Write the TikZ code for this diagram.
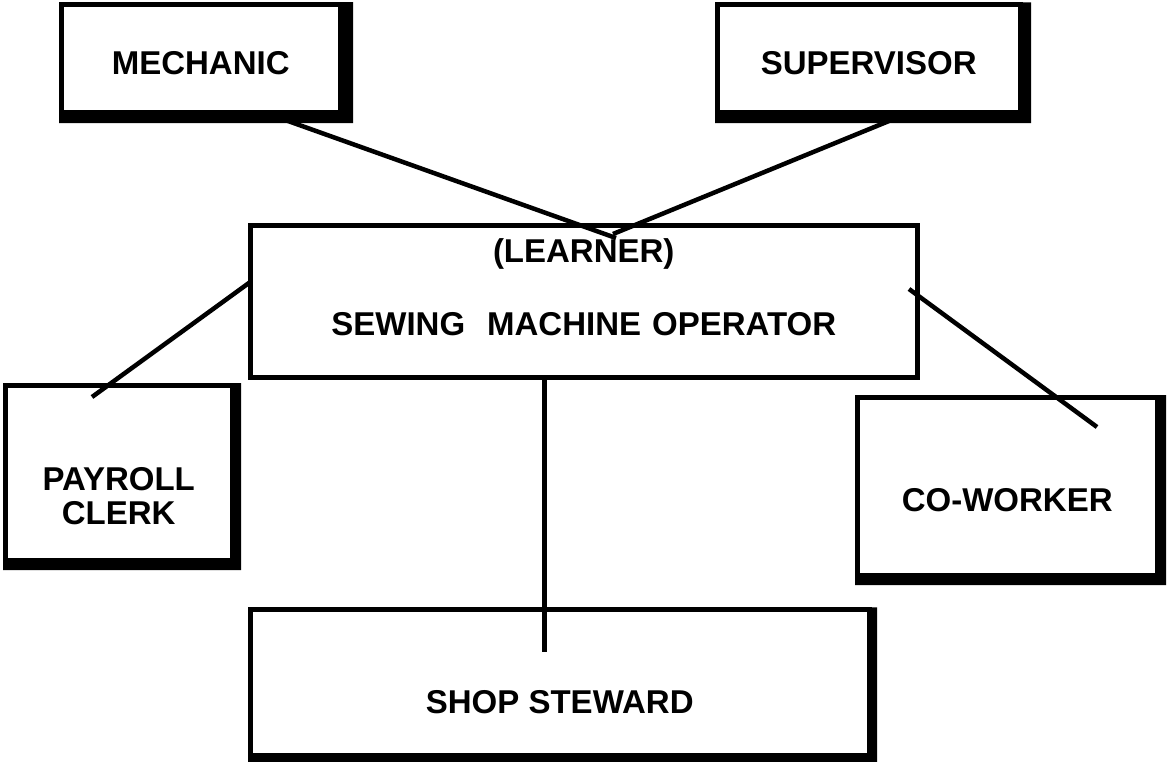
\documentclass[tikz,border=0pt]{standalone}
\usepackage{fontspec}
\setmainfont{Liberation Sans}
% thick right and bottom edges of a framed box: #1 node, #2 right extra, #3 bottom extra
\newcommand\heavyedges[3]{%
  \fill ([shift={(-2.25pt,2.25pt)}]#1.north east) rectangle ([shift={(#2pt,-#3pt)}]#1.south east)
        ([shift={(-2.25pt,2.25pt)}]#1.south west) rectangle ([shift={(#2pt,-#3pt)}]#1.south east);}
\begin{document}
\begin{tikzpicture}[x=1pt,y=-1pt,
  every node/.style={font=\fontsize{33}{34}\selectfont\bfseries},
  frame/.style={rectangle, draw, line width=4.5pt, fill=white, inner sep=0pt, outer sep=0pt},
  link/.style={line width=4.5pt}]
\useasboundingbox (0,0) rectangle (1167,761);

% central role
\node[frame, minimum width=667pt, minimum height=152pt, text width=660pt, align=center,
      font=\fontsize{33}{73}\selectfont\bfseries, text height=0pt, text depth=77.4pt]
  (op) at (583.75,301.5) {(LEARNER)\\SEWING~ MACHINE OPERATOR};

% surrounding roles
\node[frame, minimum width=279pt, minimum height=108pt, text height=32.1pt, text depth=0pt]
  (mech) at (200.75,58.25) {MECHANIC};
\heavyedges{mech}{12.75}{10.75}

\node[frame, minimum width=303pt, minimum height=107.75pt, text height=31.8pt, text depth=0pt]
  (sup) at (868.75,58.4) {SUPERVISOR};
\heavyedges{sup}{10.75}{10.75}

\node[frame, minimum width=227pt, minimum height=175pt, text width=220pt, align=center,
      text height=35.1pt, text depth=0pt]
  (pay) at (118.75,472.75) {PAYROLL\\CLERK};
\heavyedges{pay}{8.75}{9.75}

\node[frame, minimum width=300pt, minimum height=178pt, text height=50.1pt, text depth=0pt]
  (cow) at (1007.25,486.25) {CO-WORKER};
\heavyedges{cow}{8.75}{9.75}

\node[frame, minimum width=619pt, minimum height=145.75pt, text height=61.8pt, text depth=0pt]
  (shop) at (559.75,682.4) {SHOP STEWARD};
\heavyedges{shop}{7.75}{10}

% connector ends
\coordinate (mechfoot) at (288,121);
\coordinate (mechtip) at (616,238);
\coordinate (supfoot) at (889,121);
\coordinate (suptip) at (613,234);
\coordinate (paytip) at (92,397);
\coordinate (paytop) at (250.25,282);
\coordinate (cowtop) at (909,289);
\coordinate (cowtip) at (1097,427);
\coordinate (shoptip) at (544.5,652);

% connectors
\draw[link] (mechfoot) -- (mechtip);
\draw[link] (supfoot) -- (suptip);
\draw[link] (paytop) -- (paytip);
\draw[link] (cowtop) -- (cowtip);
\draw[link] (shoptip |- op.south) -- (shoptip);
\end{tikzpicture}
\end{document}
